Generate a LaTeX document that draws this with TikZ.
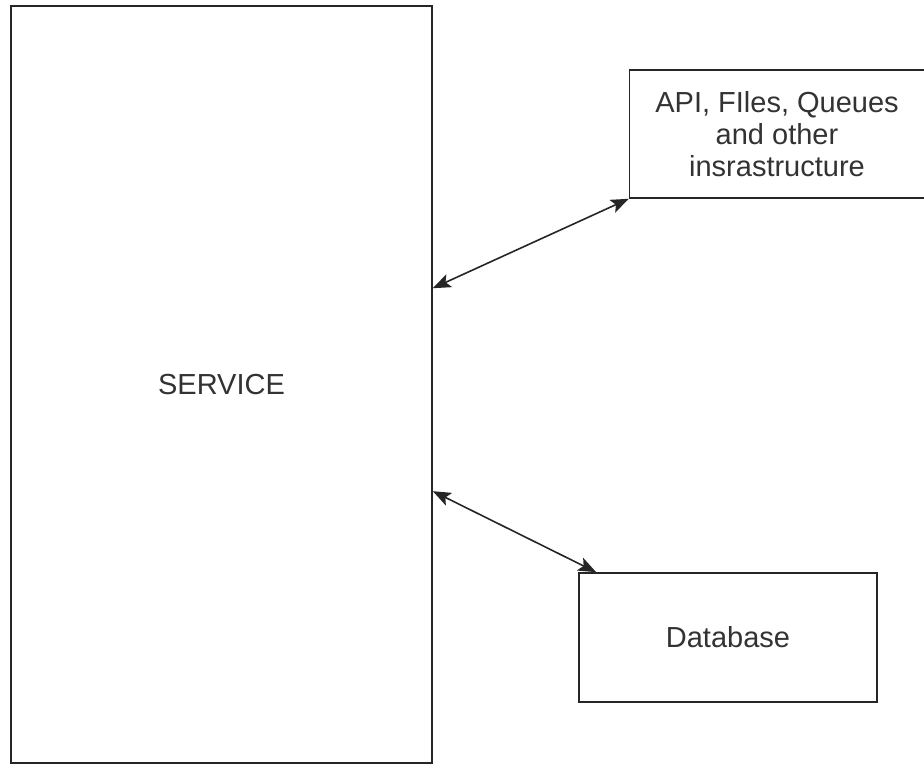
\documentclass[tikz,border=0pt]{standalone}
\usepackage{fontspec}
\setmainfont{Liberation Sans}
\usetikzlibrary{arrows.meta,calc}
\begin{document}
\begin{tikzpicture}[x=1pt,y=1pt,
  box/.style={draw=black!85, line width=1.6pt, rectangle, inner sep=0pt, align=center,
    font=\fontsize{29}{32}\selectfont, text=black!80},
  link/.style={draw=black!85, line width=1.6pt, {Stealth[length=18pt,width=14pt,inset=4pt]}-{Stealth[length=18pt,width=14pt,inset=4pt]}}]
\useasboundingbox (0,0) rectangle (924,-765);
\fill[white] (0,0) rectangle (924,-765);
\node[box, minimum width=421pt, minimum height=757pt] (service) at (221.5,-384.5) {SERVICE};
\node[box, minimum width=295pt, minimum height=128pt] (api) at (777,-134) {API, FIles, Queues\\and other\\insrastructure};
\node[box, minimum width=298pt, minimum height=129pt] (db) at (728,-637.5) {Database};
\coordinate (s1) at ($(service.north east)+(0,-283)$);
\coordinate (s2) at ($(service.north east)+(0,-486)$);
\coordinate (d1) at ($(db.north west)+(18,0)$);
\draw[link] (s1) -- (api.south west);
\draw[link] (s2) -- (d1);
\end{tikzpicture}
\end{document}
